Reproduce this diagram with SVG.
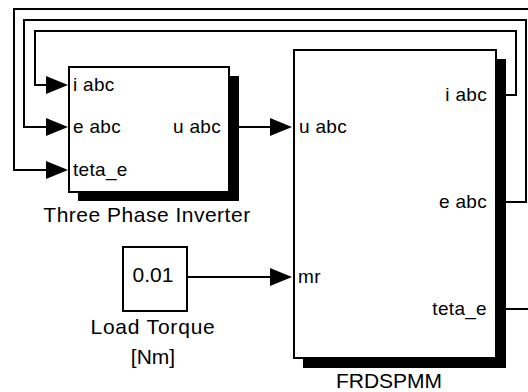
<svg xmlns="http://www.w3.org/2000/svg" width="528" height="392" viewBox="0 0 528 392">
<defs>
<style>
.wire{fill:none;stroke:#000;stroke-width:2;}
.box{fill:#fff;stroke:#000;stroke-width:2;}
.shadow{fill:#000;}
.arr{fill:#000;}
.port{font-family:"Liberation Sans",Arial,sans-serif;font-size:19px;fill:#000;}
.name{font-family:"Liberation Sans",Arial,sans-serif;font-size:21px;fill:#000;text-anchor:middle;}
</style>
</defs>
<rect width="528" height="392" fill="#fff"/>
<g id="connectors">
<polyline class="wire" points="496,95 516,95 516,31 35,31 35,85 48,85"/>
<polyline class="wire" points="496,202 526,202 526,20 24,20 24,127 48,127"/>
<polyline class="wire" points="496,309 540,309 540,9 14,9 14,170 48,170"/>
<polyline class="wire" points="229,127 272,127"/>
<polyline class="wire" points="187,277 272,277"/>
<polygon class="arr" points="46,76 68,85 46,94"/>
<polygon class="arr" points="46,118 68,127 46,136"/>
<polygon class="arr" points="46,161 68,170 46,179"/>
<polygon class="arr" points="270,118 292,127 270,136"/>
<polygon class="arr" points="270,268 292,277 270,286"/>
</g>
<g id="inverter">
<rect class="shadow" x="78" y="76" width="161" height="125"/>
<rect class="box" x="69" y="67" width="160" height="125"/>
<text class="port" x="73" y="91" letter-spacing="0.3">i abc</text>
<text class="port" x="73" y="133" letter-spacing="0.3">e abc</text>
<text class="port" x="73" y="176" letter-spacing="0.3">teta_e</text>
<text class="port" x="221" y="133" text-anchor="end" letter-spacing="0.3">u abc</text>
<text class="name" x="147" y="222" letter-spacing="0.5">Three Phase Inverter</text>
</g>
<g id="load_torque">
<rect class="box" x="123" y="247" width="64" height="64"/>
<text class="name" x="153" y="282">0.01</text>
<text class="name" x="153" y="334" letter-spacing="0.8">Load Torque</text>
<text class="name" x="153" y="364">[Nm]</text>
</g>
<g id="frdspmm">
<rect class="shadow" x="303" y="59" width="203" height="309"/>
<rect class="box" x="294" y="50" width="202" height="308"/>
<text class="port" x="299" y="133" letter-spacing="0.3">u abc</text>
<text class="port" x="298" y="283" letter-spacing="0.3">mr</text>
<text class="port" x="487" y="101" text-anchor="end" letter-spacing="0.3">i abc</text>
<text class="port" x="487" y="208" text-anchor="end" letter-spacing="0.3">e abc</text>
<text class="port" x="487" y="315" text-anchor="end" letter-spacing="0.3">teta_e</text>
<text class="name" x="389" y="388" font-size="20">FRDSPMM</text>
</g>
</svg>
